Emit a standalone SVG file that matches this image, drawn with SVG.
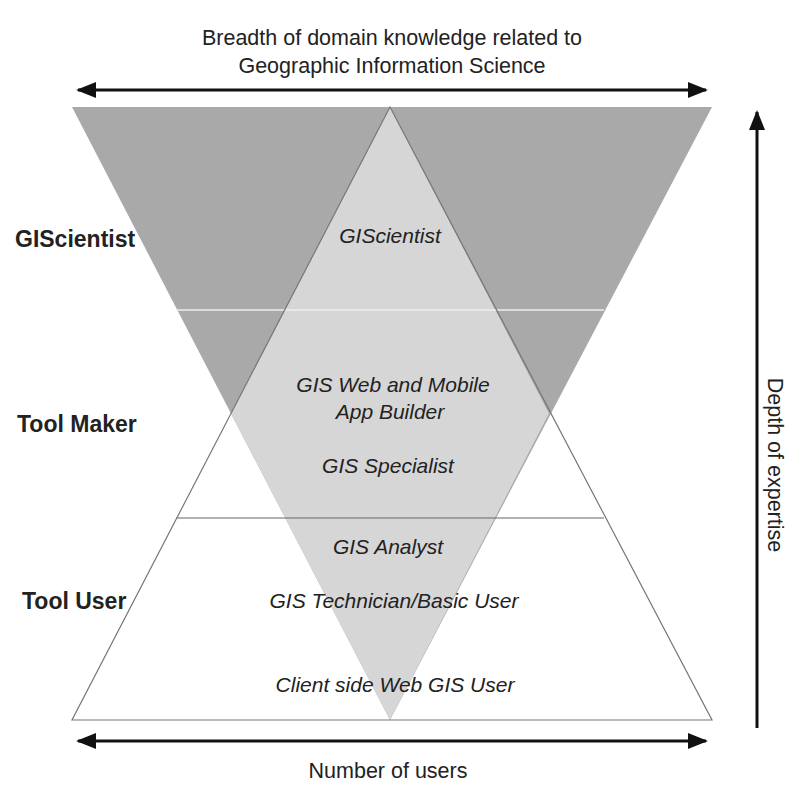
<svg xmlns="http://www.w3.org/2000/svg" width="800" height="792" viewBox="0 0 800 792">
<style>
text{font-family:"Liberation Sans",Arial,sans-serif;fill:#222}
.c{font-size:21.5px;text-anchor:middle}
.i{font-size:21px;font-style:italic;text-anchor:middle}
.b{font-size:23px;font-weight:bold}
.a{stroke:#111;stroke-width:3;fill:none}
</style>
<defs>
<marker id="H" markerWidth="20" markerHeight="16" refX="18" refY="8" orient="auto-start-reverse" markerUnits="userSpaceOnUse"><path d="M0,0 L20,8 L0,16z" fill="#111"/></marker></defs>
<rect width="800" height="792" fill="#fff"/>
<g id="pyramids">
<polygon points="72,107 712,107 390,720" fill="#a9a9a9"/>
<polygon points="390,107 549,413.5 390,720 231,413.5" fill="#d6d6d6"/>
<line x1="176" y1="310" x2="604" y2="310" stroke="#eee" stroke-width="1.5"/>
<line x1="176" y1="518" x2="604" y2="518" stroke="#666" stroke-width="1.2"/>
<polygon points="390,107 712,720 72,720" fill="none" stroke="#777" stroke-width="1.2"/>
</g>
<g id="connectors">
<line class="a" x1="78" y1="90" x2="706" y2="90" marker-start="url(#H)" marker-end="url(#H)"/>
<line class="a" x1="78" y1="741" x2="706" y2="741" marker-start="url(#H)" marker-end="url(#H)"/>
<line class="a" x1="757" y1="728" x2="757" y2="112" marker-end="url(#H)"/>
</g>
<g id="labels">
<text class="c" x="392" y="45">Breadth of domain knowledge related to</text>
<text class="c" x="392" y="73">Geographic Information Science</text>
<text class="c" x="388" y="778">Number of users</text>
<text class="c" transform="translate(768,465) rotate(90)">Depth of expertise</text>
<text class="b" x="15" y="247">GIScientist</text>
<text class="b" x="17" y="432">Tool Maker</text>
<text class="b" x="22" y="609">Tool User</text>
<text class="i" x="390" y="243">GIScientist</text>
<text class="i" x="393" y="392">GIS Web and Mobile</text>
<text class="i" x="390" y="419">App Builder</text>
<text class="i" x="388" y="473">GIS Specialist</text>
<text class="i" x="388" y="554">GIS Analyst</text>
<text class="i" x="394" y="608">GIS Technician/Basic User</text>
<text class="i" x="395" y="692">Client side Web GIS User</text>
</g>
</svg>
